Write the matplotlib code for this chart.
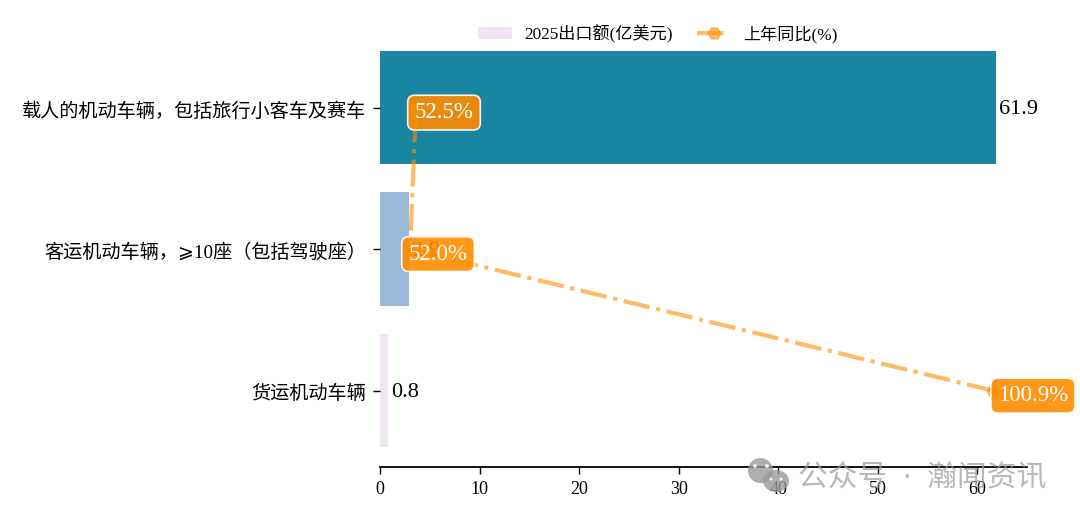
import matplotlib
matplotlib.use("Agg")
import matplotlib.pyplot as plt
from matplotlib.patches import Ellipse
from matplotlib.transforms import ScaledTranslation

plt.rcParams['font.family'] = ['Liberation Serif', 'Noto Sans CJK SC', 'DejaVu Sans']

categories = ['货运机动车辆', '客运机动车辆，⩾10座（包括驾驶座）', '载人的机动车辆，包括旅行小客车及赛车']
export_values = [0.8, 2.9, 61.9]
yoy_values = [100.9, 52.0, 52.5]
x_ticks = [0, 10, 20, 30, 40, 50, 60]

bar_colors = ['#f0e6f2', '#9ab9d8', '#1985a1']
orange = '#ff8c00'


def px_x(x):
    return x / 1080


def px_y(y):
    return 1 - y / 519


fig = plt.figure(figsize=(10.8, 5.19), dpi=100)
ax = fig.add_axes([px_x(380), px_y(467), px_x(1027 - 380), (467 - 51) / 519])

y_pos = list(range(len(categories)))
bars = ax.barh(y_pos, export_values, height=0.8, color=bar_colors, label='2025出口额(亿美元)')
for y, v in zip(y_pos, export_values):
    ax.annotate(f'{v}', xy=(v, y), xytext=(3, -2), textcoords='offset pixels',
                ha='left', va='center', fontsize=16, color='black')

ax.set_xlim(0, 65)
ax.set_ylim(-0.54, 2.4)
ax.set_yticks(y_pos)
ax.set_yticklabels(categories, fontsize=13.8)
ax.set_xticks(x_ticks)
ax.tick_params(axis='x', labelsize=13, length=5, width=1, pad=5)
ax.tick_params(axis='y', length=5, width=1, pad=5)
for s in ['top', 'right', 'left']:
    ax.spines[s].set_visible(False)
ax.spines['bottom'].set_linewidth(1.3)

# nudge the category labels down a little
nudge = ScaledTranslation(0, -1.5 / 100, fig.dpi_scale_trans)
for t in ax.get_yticklabels():
    t.set_transform(t.get_transform() + nudge)

# second scale for the growth line
ax2 = ax.twiny()
ax2.set_xlim(49.48, 103.76)
line, = ax2.plot(yoy_values, y_pos, color=orange, alpha=0.6, linewidth=3,
                 linestyle='-.', marker='H', markersize=9, label='上年同比(%)')
ax2.set_xticks([])
for s in ax2.spines.values():
    s.set_visible(False)

label_offsets = [(40, -5), (28, -5), (28, -5)]
for y, v, off in zip(y_pos, yoy_values, label_offsets):
    ax2.annotate(f'{v}%', xy=(v, y), xytext=off, textcoords='offset pixels',
                 ha='center', va='center', fontsize=16.5, color='white', zorder=5,
                 annotation_clip=False,
                 bbox=dict(boxstyle='round,pad=0.3', facecolor=orange, alpha=0.9,
                           edgecolor='white', linewidth=1.2))

fig.legend(handles=[bars, line], loc='center', bbox_to_anchor=(px_x(658), px_y(34)), ncol=2,
           frameon=False, fontsize=12.3, columnspacing=1.4, handlelength=1.95, handletextpad=0.75)

# watermark
wm = '#9a9a9a'
fig.text(px_x(798), px_y(477), '公众号  ·  瀚闻资讯', fontsize=21.4, color=wm, alpha=0.7,
         ha='left', va='center')
icon_parts = [(760.5, 470.5, 25, 25, wm), (776, 481, 26, 22, wm),
              (755, 466, 4, 4, 'white'), (767, 466, 4, 4, 'white'),
              (771, 479, 3, 3, 'white'), (781, 479, 3, 3, 'white')]
for cx, cy, w, h, c in icon_parts:
    fig.add_artist(Ellipse((px_x(cx), px_y(cy)), w / 1080, h / 519, facecolor=c,
                           edgecolor='none', alpha=0.8, transform=fig.transFigure))

fig.savefig('out.png', dpi=100)
